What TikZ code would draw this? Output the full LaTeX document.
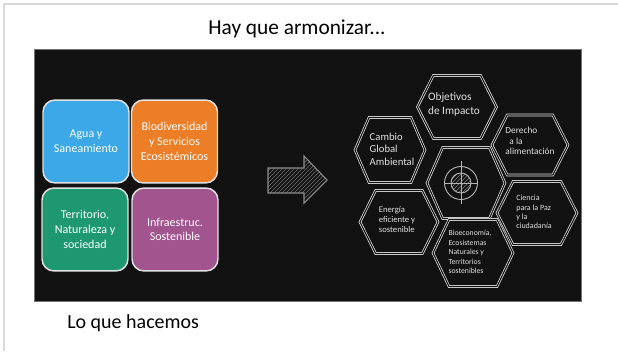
\documentclass[tikz,border=0pt]{standalone}
\usepackage{fontspec}
\setmainfont{Carlito}
\usetikzlibrary{patterns}

\definecolor{boardbg}{RGB}{18,18,18}
\definecolor{aguablue}{RGB}{60,168,232}
\definecolor{bioorange}{RGB}{236,126,40}
\definecolor{terrgreen}{RGB}{30,152,112}
\definecolor{infrapurple}{RGB}{162,84,142}
\definecolor{chalk}{RGB}{225,225,225}

\tikzset{
  tile/.style={draw=chalk, line width=1.1pt, rounded corners=9pt,
    minimum width=64.5pt, minimum height=62.2pt, text=white, align=center,
    font=\fontsize{9}{11}\selectfont},
  hexline/.style={draw=chalk, line width=0.55pt, double=boardbg, double distance=0.8pt},
  hextext/.style={text=chalk, align=left, inner sep=0pt},
}

% hexagono: centro x, centro y, ancho, alto
\newcommand{\hexagono}[4]{%
  \draw[hexline, shift={(#1,#2)}] ({-#3/2},0) -- ({-0.3*#3},{-#4/2}) -- ({0.3*#3},{-#4/2})
    -- ({#3/2},0) -- ({0.3*#3},{#4/2}) -- ({-0.3*#3},{#4/2}) -- cycle;}

\begin{document}
\begin{tikzpicture}[x=0.75pt,y=0.75pt,yscale=-1]
%fondo y marco
\fill[white] (0,0) rectangle (618,351);
\useasboundingbox (0,0) rectangle (618,351);
\draw[black!15, line width=1.5pt] (4,351) -- (4,4) -- (618,4);

% titulos
\node (titulo) at (297,29) {\fontsize{16}{18}\selectfont Hay que armonizar...};
\node[anchor=west, inner sep=0pt] (pie) at (67,323) {\fontsize{15}{17}\selectfont Lo que hacemos};

% pizarra
\draw[fill=boardbg, draw=black!55, line width=0.4pt] (34,49) rectangle (581,301);

% cuadros de la izquierda
\node[tile, fill=aguablue] (agua) at (86,141.5) {Agua y\\Saneamiento};
\node[tile, fill=bioorange] (biodiv) at (174.5,141.5) {Biodiversidad\\y Servicios\\Ecosistémicos};
\node[tile, fill=terrgreen] (territorio) at (85,229.5) {Territorio,\\Naturaleza y\\sociedad};
\node[tile, fill=infrapurple] (infra) at (175,229.5) {Infraestruc.\\Sostenible};

% flecha rayada
\draw[draw=black!45, line width=0.8pt, pattern=north east lines, pattern color=black!55]
  (268,168) -- (304,168) -- (304,156) -- (327,180) -- (304,203) -- (304,193) -- (268,193) -- cycle;

% hexagonos
\hexagono{466}{183}{78}{71}
\hexagono{457}{107}{79}{63}
\hexagono{390}{150}{70}{65}
\hexagono{530}{145}{76}{60}
\hexagono{399}{222}{78}{63}
\hexagono{537}{213}{80}{63}
\hexagono{473}{253}{80}{67}

% diana
\draw[chalk!80!black, line width=0.7pt, pattern=north east lines, pattern color=black!50] (461,183) circle (10);
\draw[chalk!80!black, line width=0.7pt] (461,183) circle (16.5);
\draw[chalk!80!black, line width=0.7pt] (444,183) -- (478,183) (461,161) -- (461,204);

% textos
\node[hextext, font=\fontsize{8.5}{10.5}\selectfont] (objetivos) at (454,104) {Objetivos\\de Impacto};
\node[hextext, font=\fontsize{8}{9.5}\selectfont] (cambio) at (392,149) {Cambio\\Global\\Ambiental};
\node[hextext, font=\fontsize{7}{8}\selectfont] (derecho) at (530,141) {Derecho\\\hspace{3pt}a la\\alimentación};
\node[hextext, font=\fontsize{6.5}{7.5}\selectfont] (energia) at (397,220) {Energía\\eficiente y\\sostenible};
\node[hextext, font=\fontsize{6}{7}\selectfont] (ciencia) at (534,212) {Ciencia\\para la Paz\\y la\\ciudadanía};
\node[hextext, font=\fontsize{5.8}{7.2}\selectfont] (bioeco) at (470,252) {Bioeconomía,\\Ecosistemas\\Naturales y\\Territorios\\sostenibles};

\end{tikzpicture}
\end{document}
